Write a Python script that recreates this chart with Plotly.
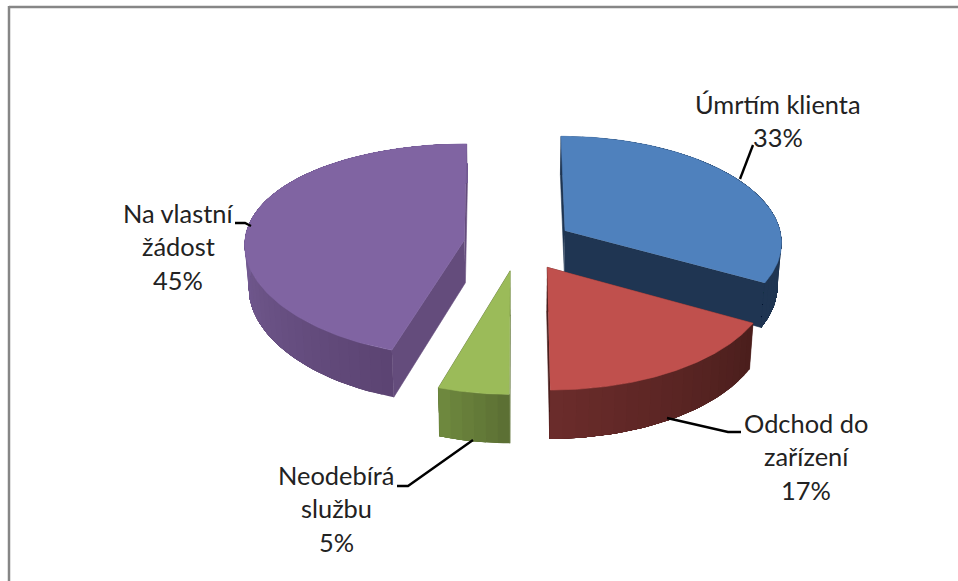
import numpy as np
import plotly.graph_objects as go

# Data
categories = ["Úmrtím klienta", "Odchod do zařízení", "Neodebírá službu", "Na vlastní žádost"]
values = [33, 17, 5, 45]
label_lines = [["Úmrtím klienta"], ["Odchod do", "zařízení"], ["Neodebírá", "službu"], ["Na vlastní", "žádost"]]

# Style
top_colors = ["#4F81BD", "#C0504D", "#9BBB59", "#8064A2"]
face_colors = ["#1F3552", "#4B1F1D", "#5A6E33", "#644C7C"]
rim_start = ["#1F3552", "#4A1E1C", "#5A6E33", "#5C4472"]
rim_end = ["#1F3552", "#6B2C2B", "#708A3F", "#755D95"]
label_centers = [(778, 104), (806, 423), (336, 475), (178, 213)]
leaders = [
    [(740, 179), (753, 145)],
    [(667, 418), (728, 432), (741, 432)],
    [(397, 486), (408, 486), (473, 440)],
    [(235, 223), (245, 223), (251, 226)],
]
LINE_H = 33.3
FONT = "Lato"
FONT_SIZE = 25.4

# Projection of the tilted, exploded pie
CX, CY, RX, RX_LEFT, RY, P, P_LEFT, EXPLODE, DEPTH, SHRINK = 518.8, 244, 217.6, 220, 106, 0.097, 0.04, 0.25, 43, 0.985


def project(X, Y, lower=False):
    s = 1 / (1 + P * Y)
    if X < 0:
        x = RX_LEFT * X / (1 + P_LEFT * Y)
    else:
        x = RX * X * s
    y = CY - RY * Y * s
    if lower:
        x *= SHRINK
        y += DEPTH * s
    return CX + x, y


def hex_mix(a, b, t):
    ca = [int(a[i:i + 2], 16) for i in (1, 3, 5)]
    cb = [int(b[i:i + 2], 16) for i in (1, 3, 5)]
    return "rgb(%d,%d,%d)" % tuple(round(u + (v - u) * t) for u, v in zip(ca, cb))


def polygon(xs, ys, color, stroke=0.6):
    return go.Scatter(x=list(xs), y=list(ys), mode="lines", fill="toself", fillcolor=color,
                      line=dict(color=color, width=stroke), hoverinfo="skip", showlegend=False)


total = sum(values)
edges = np.cumsum([0] + values) / total * 2 * np.pi
slices = []
for i in range(len(values)):
    a0, a1 = edges[i], edges[i + 1]
    mid = (a0 + a1) / 2
    ox, oy = EXPLODE * np.sin(mid), EXPLODE * np.cos(mid)
    slices.append((i, a0, a1, ox, oy))

traces = []
draw_order = [3, 0, 1, 2]
for i, a0, a1, ox, oy in [slices[k] for k in draw_order]:
    # radial cut faces
    for a in (a0, a1):
        pts = [(ox, oy), (ox + np.sin(a), oy + np.cos(a))]
        up = [project(*p) for p in pts]
        lo = [project(*p, lower=True) for p in pts]
        q = up + lo[::-1]
        traces.append(polygon([p[0] for p in q], [p[1] for p in q], face_colors[i]))
    # outer rim: each gradient band paints from its start to the slice end, so no seams show
    n = max(3, int(np.degrees(a1 - a0) / 3))
    bounds = np.linspace(a0, a1, n + 1)
    for j in range(n):
        arc = np.linspace(bounds[j], a1, max(4, 2 * (n - j)))
        up = [project(ox + np.sin(a), oy + np.cos(a)) for a in arc]
        lo = [project(ox + np.sin(a), oy + np.cos(a), lower=True) for a in arc]
        q = up + lo[::-1]
        t = min(1, (j + 0.5) / n * (2.0 if i == 3 else 1.0))
        traces.append(polygon([p[0] for p in q], [p[1] for p in q],
                              hex_mix(rim_start[i], rim_end[i], t), stroke=0))
    # top surface
    arc = np.linspace(a0, a1, 120)
    top = [project(ox, oy)] + [project(ox + np.sin(a), oy + np.cos(a)) for a in arc]
    traces.append(polygon([p[0] for p in top], [p[1] for p in top], top_colors[i]))

# Leader lines
for path in leaders:
    traces.append(go.Scatter(x=[p[0] for p in path], y=[p[1] for p in path], mode="lines",
                             line=dict(color="#000000", width=2.4), hoverinfo="skip", showlegend=False))

fig = go.Figure(traces)

annotations = []
for lines, val, (cx, cy) in zip(label_lines, values, label_centers):
    for k, text in enumerate(lines + [f"{val}%"]):
        annotations.append(dict(x=cx, y=cy + k * LINE_H, text=text, xref="x", yref="y", showarrow=False,
                                xanchor="center", yanchor="middle",
                                font=dict(family=FONT, size=FONT_SIZE, color="#222222")))

fig.update_layout(
    width=958, height=581, margin=dict(l=0, r=0, t=0, b=0),
    paper_bgcolor="white", plot_bgcolor="white", showlegend=False,
    xaxis=dict(range=[0, 958], visible=False, fixedrange=True),
    yaxis=dict(range=[581, 0], visible=False, fixedrange=True),
    annotations=annotations,
    shapes=[
        dict(type="line", xref="x", yref="y", x0=9, y0=7, x1=958, y1=7, line=dict(color="#868686", width=2.5)),
        dict(type="line", xref="x", yref="y", x0=9, y0=6, x1=9, y1=581, line=dict(color="#868686", width=2.5)),
    ],
)
fig.write_html("out.html", config={"displayModeBar": False},
               post_script="document.body.style.margin='0';document.documentElement.style.overflow='hidden';")
